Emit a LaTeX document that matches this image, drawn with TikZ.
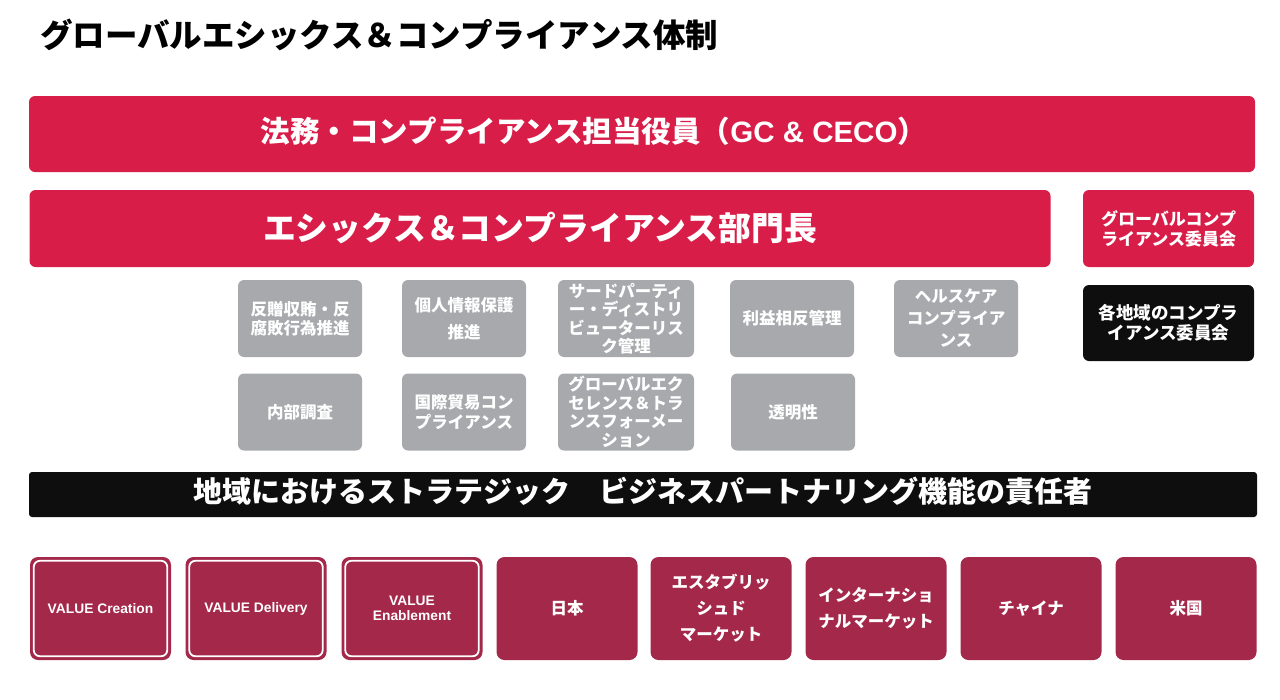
\documentclass[tikz,border=0pt]{standalone}
\usepackage{fontspec}
\setmainfont{Noto Sans CJK JP}
\newfontfamily\lat{Liberation Sans}
\definecolor{cred}{HTML}{D81E48}
\definecolor{cdark}{HTML}{A3284A}
\definecolor{cgray}{HTML}{A7A9AC}
\definecolor{cblack}{HTML}{0E0E0E}
\tikzset{
  box/.style={rounded corners=6pt, inner sep=0pt, align=center, text=white, font=\bfseries},
  redbox/.style={box, fill=cred},
  blackbox/.style={box, fill=cblack},
  graybox/.style={box, fill=cgray, minimum width=124pt, minimum height=77pt},
  wide/.style={graybox, minimum width=136pt},
  botbox/.style={box, fill=cdark, rounded corners=8pt, minimum width=141pt, minimum height=103pt},
  inner/.style={draw=white, line width=1.8pt, rounded corners=6pt},
}
\begin{document}
\begin{tikzpicture}[x=1pt,y=-1pt]
\useasboundingbox (0,0) rectangle (1280,699);
% title
\node[anchor=west, inner sep=0pt, font=\bfseries\fontsize{32.5}{38}\selectfont] (title) at (40,35) {グローバルエシックス＆コンプライアンス体制};
% top boxes
\node[redbox, minimum width=1226pt, minimum height=76pt] (gc) at (642,134) {};
\node[text=white, inner sep=0pt, font=\bfseries\fontsize{29.5}{34}\selectfont] (gct) at (594,131) {法務・コンプライアンス担当役員（{\lat\bfseries GC \& CECO}）};
\node[redbox, minimum width=1021pt, minimum height=77pt, font=\bfseries\fontsize{32.8}{38}\selectfont] (head) at (540,228.5) {\raisebox{2pt}{エシックス＆コンプライアンス部門長}};
\node[redbox, minimum width=171pt, minimum height=77pt, font=\bfseries\fontsize{17}{20}\selectfont] (gcc) at (1168.5,228.5) {グローバルコンプ\\ライアンス委員会};
\node[blackbox, minimum width=171pt, minimum height=76pt, font=\bfseries\fontsize{17.5}{20.5}\selectfont] (rcc) at (1168.5,323) {各地域のコンプラ\\イアンス委員会};
% gray boxes row 1
\node[graybox, font=\bfseries\fontsize{16.5}{19.5}\selectfont] (g1) at (300,318.5) {反贈収賄・反\\腐敗行為推進};
\node[graybox, font=\bfseries\fontsize{16.5}{27}\selectfont] (g2) at (464,318.5) {個人情報保護\\推進};
\node[wide, font=\bfseries\fontsize{16.5}{18.5}\selectfont] (g3) at (626,318.5) {サードパーティ\\ー・ディストリ\\ビューターリス\\ク管理};
\node[graybox, font=\bfseries\fontsize{16.5}{19.5}\selectfont] (g4) at (792,318.5) {利益相反管理};
\node[graybox, font=\bfseries\fontsize{16.5}{22}\selectfont] (g5) at (956,318.5) {ヘルスケア\\コンプライア\\ンス};
% gray boxes row 2
\node[graybox, font=\bfseries\fontsize{16.5}{19.5}\selectfont] (h1) at (300,412) {内部調査};
\node[graybox, font=\bfseries\fontsize{16.5}{19.5}\selectfont] (h2) at (464,412) {国際貿易コン\\プライアンス};
\node[wide, font=\bfseries\fontsize{16.5}{18.5}\selectfont] (h3) at (626,412) {グローバルエク\\セレンス＆トラ\\ンスフォーメー\\ション};
\node[graybox, font=\bfseries\fontsize{16.5}{19.5}\selectfont] (h4) at (793,412) {透明性};
% black bar
\node[blackbox, rounded corners=3pt, minimum width=1228pt, minimum height=45pt] (bar) at (643,494.5) {};
\node[text=white, inner sep=0pt, font=\bfseries\fontsize{29}{34}\selectfont] (bart) at (643,491) {地域におけるストラテジック　ビジネスパートナリング機能の責任者};
% bottom row
\node[botbox, font=\lat\bfseries\fontsize{13.8}{16}\selectfont] (v1) at (100.5,608.5) {VALUE Creation};
\node[botbox, font=\lat\bfseries\fontsize{13.8}{16}\selectfont] (v2) at (256,608.5) {VALUE Delivery};
\node[botbox, font=\lat\bfseries\fontsize{13.8}{15}\selectfont] (v3) at (412,608.5) {VALUE\\Enablement};
\foreach \n in {v1,v2,v3}{
  \draw[inner] ([shift={(4pt,-4pt)}]\n.north west) rectangle ([shift={(-4pt,4pt)}]\n.south east);
}
\node[botbox, font=\bfseries\fontsize{16.5}{20}\selectfont] (b4) at (567,608.5) {日本};
\node[botbox, font=\bfseries\fontsize{16.5}{26}\selectfont] (b5) at (721,608.5) {エスタブリッ\\シュド\\マーケット};
\node[botbox, font=\bfseries\fontsize{16.5}{26}\selectfont] (b6) at (876,608.5) {インターナショ\\ナルマーケット};
\node[botbox, font=\bfseries\fontsize{16.5}{20}\selectfont] (b7) at (1031,608.5) {チャイナ};
\node[botbox, font=\bfseries\fontsize{16.5}{20}\selectfont] (b8) at (1186,608.5) {米国};
\end{tikzpicture}
\end{document}
